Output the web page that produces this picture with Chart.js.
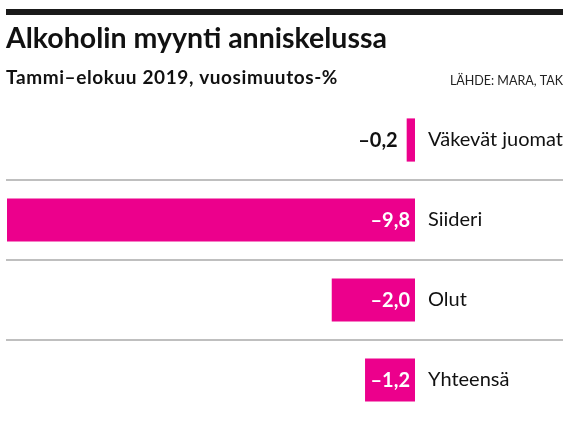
<!DOCTYPE html>
<html>
<head>
<meta charset="utf-8">
<script src="https://cdn.jsdelivr.net/npm/chart.js@4.4.1/dist/chart.umd.min.js"></script>
<style>
  html, body { margin: 0; padding: 0; background: #fff; overflow: hidden; }
  #barChart { position: absolute; left: 0; top: 0; }
</style>
</head>
<body>
<canvas id="barChart" width="570" height="428" style="width:570px;height:428px"></canvas>
<script>
// data
var categories = ['Väkevät juomat', 'Siideri', 'Olut', 'Yhteensä'];
var changes = [-0.2, -9.8, -2.0, -1.2];

var titleText = 'Alkoholin myynti anniskelussa';
var subtitleText = 'Tammi–elokuu 2019, vuosimuutos-%';
var sourceText = 'LÄHDE: MARA, TAK';

var pink = '#ec008c';

function fmt(v) {
    return (v < 0 ? '–' : '') + Math.abs(v).toFixed(1).replace('.', ',');
}

// heading, black rule and source line
var headerPlugin = {
    id: 'header',
    afterDraw: function (chart) {
        var ctx = chart.ctx;
        ctx.save();
        ctx.fillStyle = '#1a1a1a';
        ctx.fillRect(6, 9, 557, 6);
        ctx.fillStyle = '#111';
        ctx.textBaseline = 'alphabetic';
        ctx.textAlign = 'left';
        ctx.font = 'bold 28.5px Lato';
        ctx.fillText(titleText, 6, 48);
        ctx.font = 'bold 19px Lato';
        ctx.letterSpacing = '0.6px';
        ctx.fillText(subtitleText, 6, 84);
        ctx.letterSpacing = '0px';
        ctx.textAlign = 'right';
        ctx.font = '12.5px Lato';
        ctx.fillStyle = '#222';
        ctx.fillText(sourceText, 563, 85);
        ctx.restore();
    }
};

// grey lines between the rows
var separatorPlugin = {
    id: 'separators',
    beforeDatasetsDraw: function (chart) {
        var ctx = chart.ctx;
        var y = chart.scales.y;
        ctx.save();
        ctx.strokeStyle = '#aaaaaa';
        ctx.lineWidth = 1.5;
        for (var i = 0; i < categories.length - 1; i++) {
            var py = (y.getPixelForValue(i) + y.getPixelForValue(i + 1)) / 2;
            ctx.beginPath();
            ctx.moveTo(6, py);
            ctx.lineTo(563, py);
            ctx.stroke();
        }
        ctx.restore();
    }
};

// value labels, inside the bar when it fits
var valuePlugin = {
    id: 'values',
    afterDatasetsDraw: function (chart) {
        var ctx = chart.ctx;
        var meta = chart.getDatasetMeta(0);
        ctx.save();
        ctx.font = 'bold 20px Lato';
        ctx.textBaseline = 'middle';
        ctx.textAlign = 'right';
        meta.data.forEach(function (bar, i) {
            var txt = fmt(changes[i]);
            var w = ctx.measureText(txt).width;
            var left = Math.min(bar.x, bar.base);
            var right = Math.max(bar.x, bar.base);
            if (right - left > w + 6) {
                ctx.fillStyle = '#fff';
                ctx.fillText(txt, right - 5, bar.y + 1);
            } else {
                ctx.fillStyle = '#111';
                ctx.fillText(txt, left - 9, bar.y + 1);
            }
        });
        ctx.restore();
    }
};

var barChartCanvas = document.getElementById('barChart').getContext('2d');

var barChart = new Chart(barChartCanvas, {
    type: 'bar',
    data: {
        labels: categories,
        datasets: [{
            data: changes,
            backgroundColor: pink,
            borderWidth: 0,
            categoryPercentage: 1,
            barPercentage: 0.54
        }]
    },
    options: {
        indexAxis: 'y',
        responsive: false,
        animation: false,
        layout: { padding: { left: 7, right: 0, top: 100, bottom: 8 } },
        plugins: {
            legend: { display: false },
            tooltip: { enabled: false }
        },
        scales: {
            x: {
                min: -9.8,
                max: 0,
                display: false
            },
            y: {
                position: 'right',
                grid: { display: false, drawTicks: false },
                border: { display: false },
                afterFit: function (scale) {
                    scale.width = 155;
                    scale.paddingTop = 0;
                    scale.paddingBottom = 0;
                },
                ticks: {
                    color: '#111',
                    padding: 13,
                    font: { family: 'Lato', size: 20 }
                }
            }
        }
    },
    plugins: [separatorPlugin, valuePlugin, headerPlugin]
});
</script>
</body>
</html>
